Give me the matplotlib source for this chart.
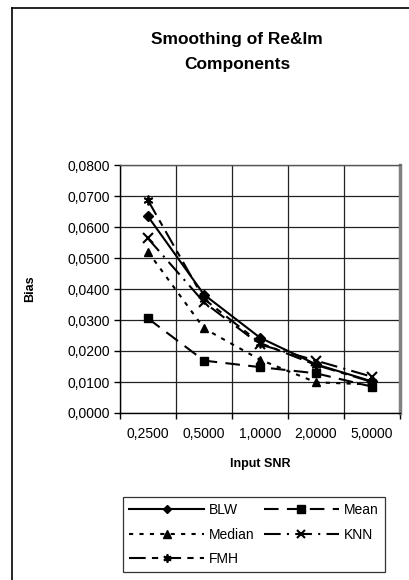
import matplotlib
matplotlib.use("Agg")
import matplotlib.pyplot as plt
import numpy as np
from matplotlib.lines import Line2D

categories = ["0,2500", "0,5000", "1,0000", "2,0000", "5,0000"]
blw = [0.0634, 0.0382, 0.0243, 0.0157, 0.0102]
mean = [0.0305, 0.0169, 0.0148, 0.0128, 0.0085]
median = [0.0520, 0.0273, 0.0172, 0.0099, 0.0092]
knn = [0.0563, 0.0357, 0.0221, 0.0169, 0.0117]
fmh = [0.0686, 0.0368, 0.0226, 0.0155, 0.0100]
yticks = [0.0, 0.01, 0.02, 0.03, 0.04, 0.05, 0.06, 0.07, 0.08]

plt.rcParams['font.family'] = ['Liberation Sans', 'DejaVu Sans']

fig = plt.figure(figsize=(4.1, 5.8), dpi=100)
# outer chart border (left and top visible)
fig.add_artist(Line2D([12.5/410, 12.5/410], [0, 1-8/580], transform=fig.transFigure,
                      color='black', lw=1.2))
fig.add_artist(Line2D([12.5/410, 1], [1-8/580, 1-8/580], transform=fig.transFigure,
                      color='black', lw=1.2))

ax = fig.add_axes([120/410, 1-413/580, 280/410, 248/580])
x = np.arange(len(categories)) + 0.5

lw = 1.5
ax.plot(x, blw, color='black', lw=lw, ls='-', marker='D', ms=5, label='BLW')
ax.plot(x, mean, color='black', lw=lw, ls=(0, (7, 4)), marker='s', ms=6, label='Mean')
ax.plot(x, median, color='black', lw=lw, ls=(0, (2, 3)), marker='^', ms=6, label='Median')
ax.plot(x, knn, color='black', lw=lw, ls=(0, (8, 3, 1, 3)), marker='x', ms=7, mew=1.5, label='KNN')
ax.plot(x, fmh, color='black', lw=lw, ls=(0, (8, 3, 3, 3)), marker=(6, 2, 0), ms=7, mew=1.3, label='FMH')

ax.set_xlim(0, len(categories))
ax.set_ylim(0, 0.08)
ax.set_yticks(yticks)
ax.set_yticklabels([("%.4f" % v).replace('.', ',') for v in yticks], fontsize=10)
ax.set_xticks(x)
ax.set_xticklabels(categories, fontsize=10)
ax.set_xticks(np.arange(len(categories) + 1), minor=True)
ax.tick_params(axis='x', which='major', length=0, pad=10)
ax.tick_params(axis='x', which='minor', length=4, direction='out', width=1)
ax.tick_params(axis='y', length=4, direction='out', width=1, pad=3)
ax.grid(True, axis='y', which='major', color='#222222', lw=0.9)
ax.grid(True, axis='x', which='minor', color='#222222', lw=0.9)
ax.set_axisbelow(True)
ax.spines['top'].set_color('#555555')
ax.spines['top'].set_linewidth(1.0)
ax.spines['right'].set_color('#808080')
ax.spines['right'].set_linewidth(2.5)
for s in ['left', 'bottom']:
    ax.spines[s].set_color('black')
    ax.spines[s].set_linewidth(1.0)

ax.set_ylabel('Bias', fontsize=9, fontweight='bold')
ax.yaxis.set_label_coords(-84/280, 0.5)
ax.set_xlabel('Input SNR', fontsize=9, fontweight='bold', labelpad=12)

fig.text(237/410, 1-52/580, 'Smoothing of Re&Im\nComponents', ha='center', va='center',
         fontsize=12.5, fontweight='bold', linespacing=1.8)

h, l = ax.get_legend_handles_labels()
order = [0, 2, 4, 1, 3]
leg = fig.legend([h[i] for i in order], [l[i] for i in order], ncol=2,
                 loc='upper left', bbox_to_anchor=(123/410, 1-497/580),
                 fontsize=10, handlelength=5.4, frameon=True, fancybox=False,
                 edgecolor='black', borderaxespad=0, columnspacing=0.65, handletextpad=0.35,
                 labelspacing=0.75, borderpad=0.45, markerscale=0.85)
leg.get_frame().set_linewidth(0.9)

fig.savefig('out.png', dpi=100)
